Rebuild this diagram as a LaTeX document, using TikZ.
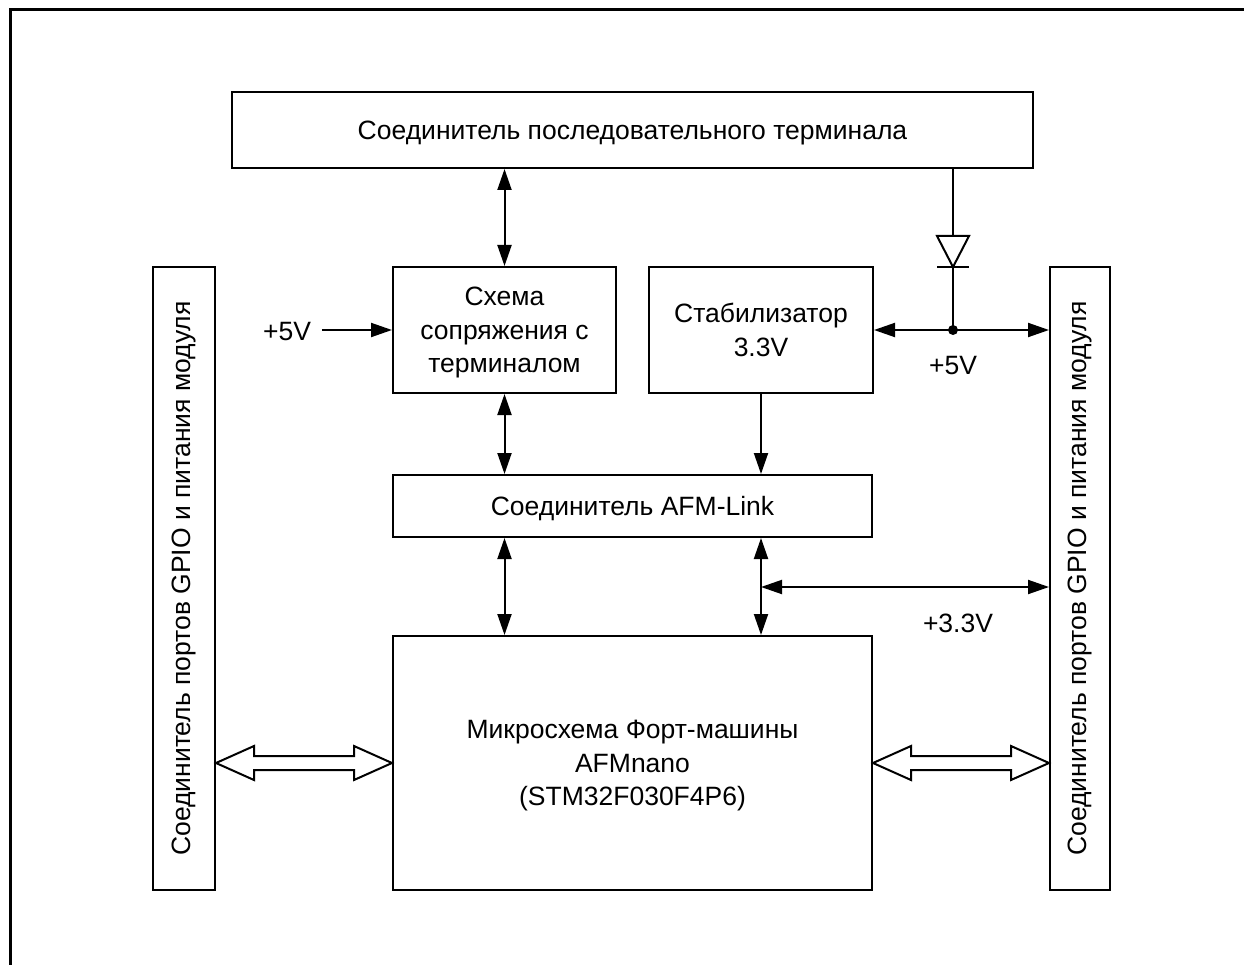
\documentclass[tikz,border=0pt]{standalone}
\usepackage{fontspec}
\setmainfont{Liberation Sans}
\usetikzlibrary{arrows.meta,calc}

\newcommand{\lbl}{\fontsize{26.5}{33.5}\selectfont}
% wide hollow double arrow between two points
\newcommand{\widearrow}[2]{%
  \draw[bus] (#1) -- ++(38,-17) -- ++(0,10) -- ($(#2)+(-38,-7)$) -- ++(0,-10)
    -- (#2) -- ++(-38,17) -- ++(0,-10) -- ($(#1)+(38,7)$) -- ++(0,10) -- cycle;}

\tikzset{
  blk/.style={draw, line width=2pt, align=center, inner sep=0pt, font=\lbl, text depth=-9pt},
  txt/.style={font=\lbl, inner sep=2pt},
  bus/.style={line width=2pt, line join=miter, fill=white},
}

\begin{document}
\begin{tikzpicture}[x=1pt, y=-1pt, line width=2pt, >={Triangle[length=21pt,width=14pt]}]
    \useasboundingbox (0,0) rectangle (1246,965);

    % Frame
    \draw[line width=3pt] (10,965) -- (10,10) -- (1244,10);

    % Blocks
    \node[blk, text depth=-11pt, minimum width=801pt, minimum height=76pt] (term) at (632.5,130) {Соединитель последовательного терминала};
    \node[blk, minimum width=223pt, minimum height=126pt] (iface) at (504.5,330) {Схема\\сопряжения с\\терминалом};
    \node[blk, text depth=-14pt, minimum width=224pt, minimum height=126pt] (stab) at (761,330) {Стабилизатор\\3.3V};
    \node[blk, minimum width=479pt, minimum height=62pt] (link) at (632.5,506) {Соединитель AFM-Link};
    \node[blk, minimum width=479pt, minimum height=254pt] (mcu) at (632.5,763) {Микросхема Форт-машины\\AFMnano\\(STM32F030F4P6)};
    \node[blk, text depth=0pt, minimum width=62pt, minimum height=623pt] (gpioL) at (184,578.5) {\rotatebox{90}{Соединитель портов GPIO и питания модуля}};
    \node[blk, text depth=0pt, minimum width=60pt, minimum height=623pt] (gpioR) at (1080,578.5) {\rotatebox{90}{Соединитель портов GPIO и питания модуля}};

    % Labels
    \node[txt] (v5in) at (287,332) {+5V};
    \node[txt] (v5out) at (953,366) {+5V};
    \node[txt] (v33) at (958,623) {+3.3V};

    % Connectors
    \draw[<->] (iface.north) -- (iface.north |- term.south);
    \draw[<->] (iface.south) -- (iface.south |- link.north);
    \draw[<->] (link.south -| iface.south) -- (mcu.north -| iface.south);
    \draw[->] (stab.south) -- (stab.south |- link.north);
    \draw[<->] (link.south -| stab.south) -- (mcu.north -| stab.south);
    \draw[->] ([xshift=8pt]v5in.east |- iface.west) -- (iface.west);

    % +5V rail with diode
    \coordinate (j5) at (953,330);
    \coordinate (dk) at (953,267);
    \draw[<->] (stab.east) -- (stab.east -| gpioR.west);
    \draw (j5) -- (j5 |- term.south);
    \draw[fill=white, line join=miter] ($(dk)+(-16,-31)$) -- ($(dk)+(16,-31)$) -- (dk) -- cycle;
    \draw ($(dk)+(-16,0)$) -- ($(dk)+(16,0)$);
    \fill (j5) circle (5pt);

    % +3.3V rail
    \coordinate (j33) at (stab.south |- 0,587);
    \draw[<->] (j33) -- (j33 -| gpioR.west);

    % Buses
    \widearrow{gpioL.east |- mcu.west}{mcu.west}
    \widearrow{mcu.east}{mcu.east -| gpioR.west}

\end{tikzpicture}
\end{document}
